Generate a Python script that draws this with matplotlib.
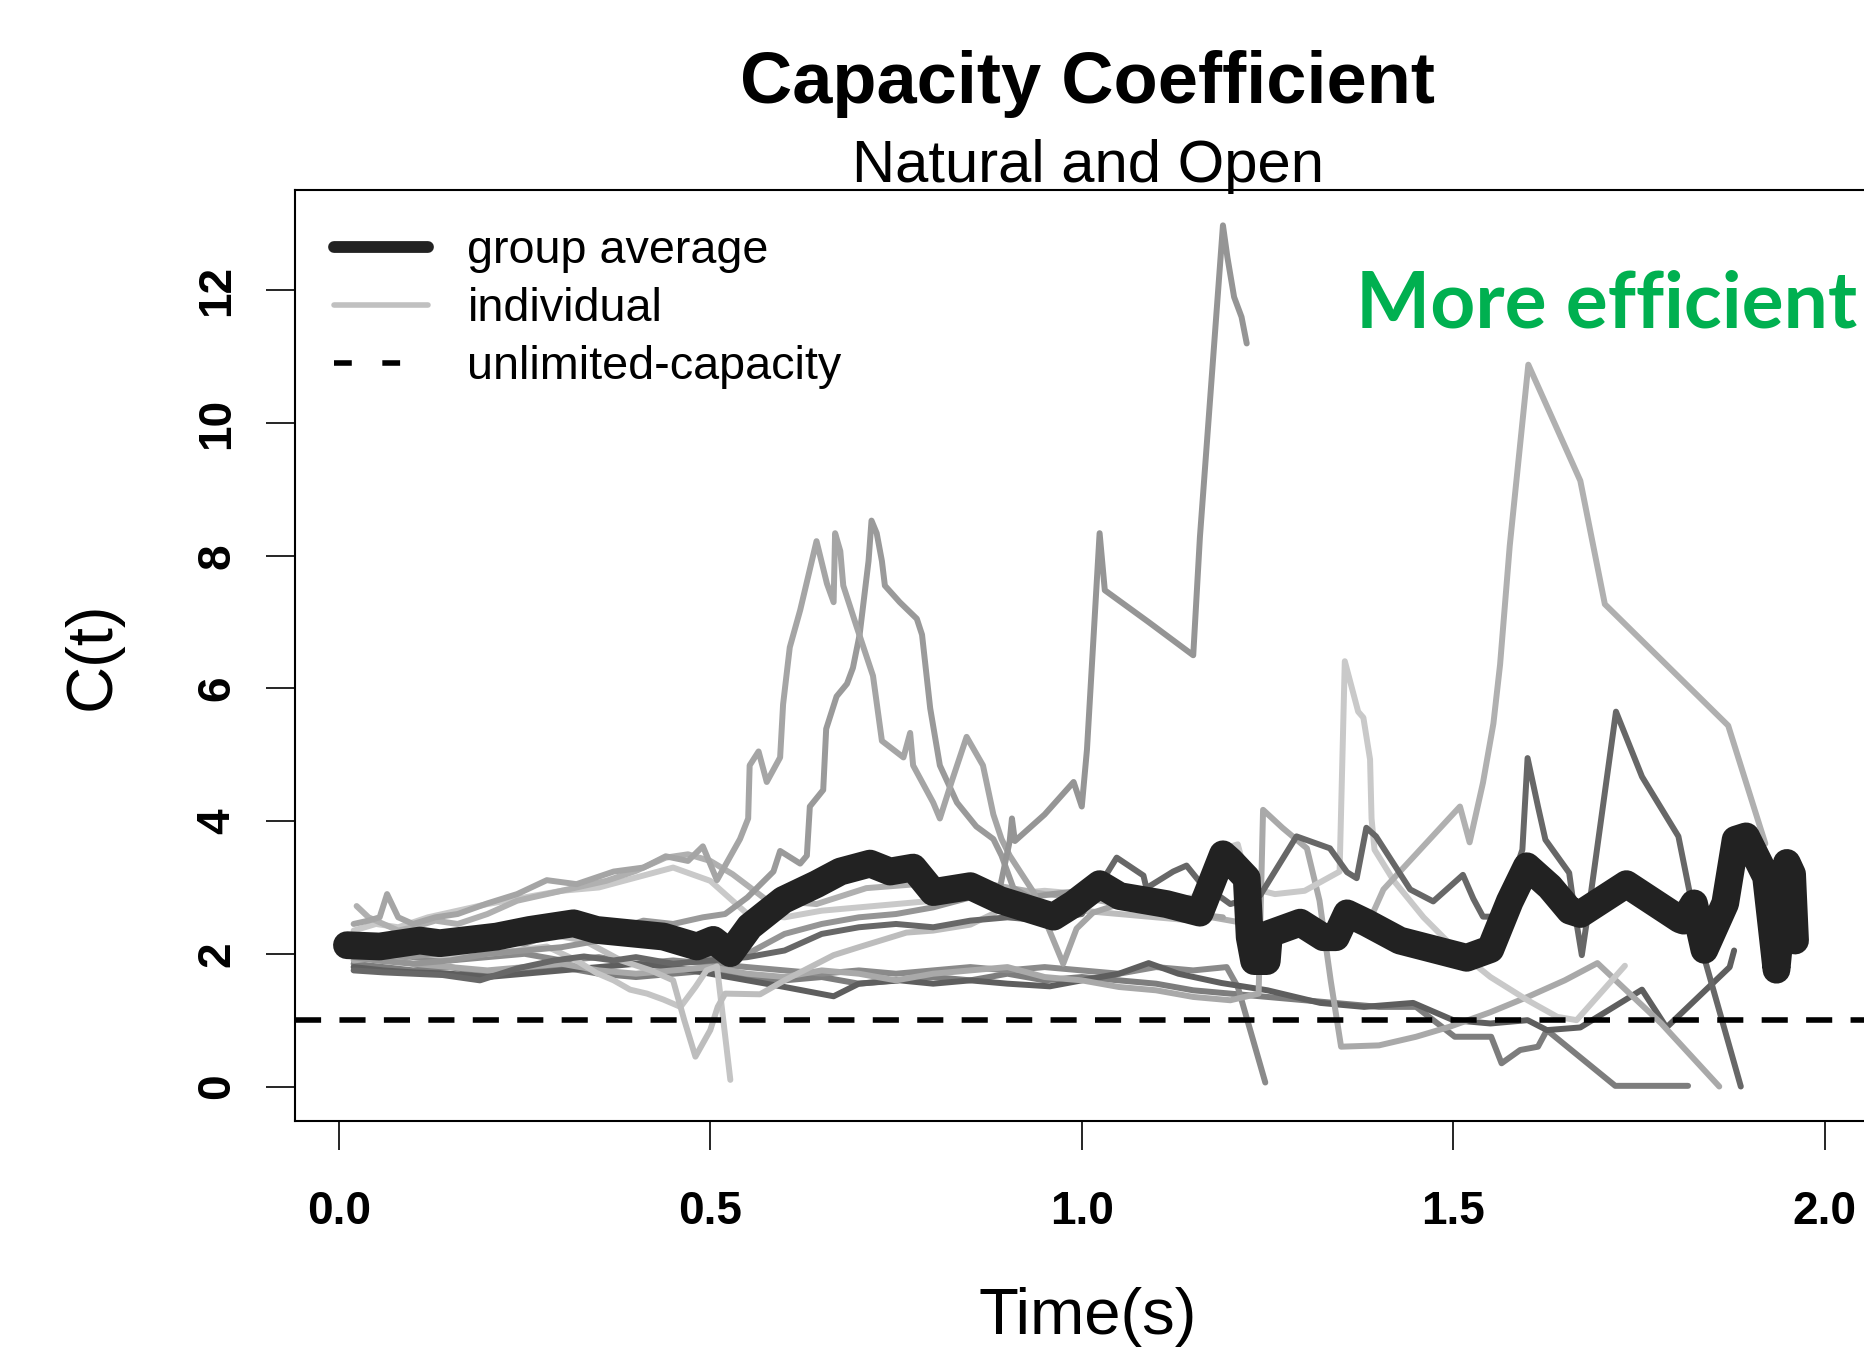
import matplotlib
matplotlib.use('Agg')
import matplotlib.pyplot as plt
from matplotlib.lines import Line2D

plt.rcParams['font.family'] = ['Liberation Sans', 'DejaVu Sans']

# group average C(t)
avg_t = [0.011, 0.055, 0.109, 0.136, 0.2125, 0.257, 0.316, 0.347, 0.392, 0.437,
         0.482, 0.504, 0.527, 0.553, 0.598, 0.643, 0.675, 0.715, 0.742, 0.773,
         0.80, 0.85, 0.89, 0.962, 0.989, 1.024, 1.051, 1.114, 1.159, 1.19,
         1.2, 1.222, 1.226, 1.232, 1.249, 1.252, 1.294, 1.325, 1.342, 1.357,
         1.383, 1.428, 1.473, 1.518, 1.55, 1.576, 1.599, 1.63, 1.657, 1.671,
         1.733, 1.805, 1.81, 1.824, 1.838, 1.866, 1.88, 1.894, 1.921, 1.935,
         1.949, 1.956, 1.96]
avg_c = [2.13, 2.11, 2.2, 2.16, 2.26, 2.36, 2.46, 2.36, 2.31, 2.26,
         2.11, 2.21, 2.01, 2.41, 2.81, 3.05, 3.24, 3.36, 3.24, 3.30,
         2.93, 3.02, 2.81, 2.56, 2.75, 3.05, 2.87, 2.75, 2.62, 3.5,
         3.4, 3.14, 2.25, 1.89, 1.89, 2.3, 2.47, 2.25, 2.25, 2.61,
         2.47, 2.2, 2.07, 1.94, 2.07, 2.79, 3.32, 3.01, 2.65, 2.6,
         3.05, 2.52, 2.5, 2.76, 2.06, 2.76, 3.72, 3.77, 3.16, 1.76,
         3.37, 3.2, 2.2]

# individual participants
ind01_t = [0.02, 0.04, 0.055, 0.065, 0.08, 0.10, 0.13, 0.16, 0.20, 0.24, 0.28, 0.32, 0.37, 0.41, 0.44,
           0.47, 0.49, 0.509, 0.54, 0.551, 0.553, 0.565, 0.576, 0.594, 0.598, 0.607, 0.621, 0.643, 0.657, 0.666,
           0.668, 0.675, 0.679, 0.697, 0.719, 0.731, 0.76, 0.769, 0.773, 0.80, 0.809, 0.825, 0.845, 0.867, 0.881,
           0.892, 0.903, 0.935, 0.975, 0.993, 1.015, 1.05, 1.10, 1.15, 1.19]
ind01_c = [2.45, 2.5, 2.55, 2.9, 2.55, 2.45, 2.55, 2.6, 2.76, 2.9, 3.11, 3.05, 3.24, 3.3, 3.47,
           3.4, 3.62, 3.11, 3.73, 4.04, 4.84, 5.05, 4.59, 4.96, 5.76, 6.62, 7.18, 8.22, 7.58, 7.30,
           8.34, 8.07, 7.55, 6.93, 6.19, 5.21, 4.96, 5.33, 4.84, 4.28, 4.04, 4.6, 5.27, 4.84, 4.1,
           3.73, 3.48, 2.93, 1.85, 2.38, 2.62, 2.75, 2.65, 2.6, 2.55]

ind02_t = [0.02, 0.05, 0.09, 0.13, 0.17, 0.21, 0.25, 0.29, 0.33, 0.37, 0.41, 0.45, 0.49, 0.52, 0.55,
           0.585, 0.594, 0.621, 0.63, 0.634, 0.652, 0.656, 0.67, 0.684, 0.692, 0.701, 0.713, 0.717, 0.724, 0.731,
           0.735, 0.755, 0.778, 0.785, 0.796, 0.809, 0.832, 0.858, 0.881, 0.892, 0.908, 0.93, 0.96, 1.0, 1.04, 1.08]
ind02_c = [2.0, 2.05, 1.95, 2.0, 2.1, 2.2, 2.15, 2.3, 2.4, 2.35, 2.5, 2.45, 2.55, 2.6, 2.85,
           3.24, 3.55, 3.36, 3.48, 4.22, 4.47, 5.39, 5.88, 6.07, 6.31, 6.81, 7.92, 8.53, 8.34, 7.92,
           7.55, 7.30, 7.05, 6.81, 5.70, 4.84, 4.28, 3.92, 3.73, 3.48, 2.99, 2.85, 2.9, 2.95, 2.9, 2.8]

ind03_t = [0.02, 0.05, 0.1, 0.15, 0.2, 0.25, 0.3, 0.35, 0.4, 0.45, 0.5, 0.55, 0.6, 0.65, 0.7, 0.75, 0.8, 0.85, 0.89,
           0.903, 0.906, 0.91, 0.95, 0.989, 1.0, 1.007, 1.024, 1.031, 1.09, 1.15, 1.159, 1.19, 1.196, 1.205,
           1.215, 1.222]
ind03_c = [1.95, 1.9, 1.85, 1.9, 2.0, 2.05, 2.1, 2.2, 2.25, 2.1, 1.95, 2.0, 2.3, 2.45, 2.55, 2.6, 2.7, 2.85, 3.0,
           3.7, 4.04, 3.7, 4.1, 4.59, 4.22, 5.08, 8.34, 7.48, 7.0, 6.5, 8.28, 12.98, 12.5, 11.9,
           11.6, 11.2]

ind04_t = [0.024, 0.04, 0.06, 0.08, 0.1, 0.13, 0.16, 0.2, 0.24, 0.28, 0.32, 0.36, 0.4, 0.44, 0.47,
           0.5, 0.53, 0.576, 0.643, 0.71, 0.778, 0.845, 0.9, 0.95, 1.0, 1.05, 1.1, 1.15, 1.2, 1.25,
           1.3, 1.35, 1.388, 1.406, 1.509, 1.522, 1.54, 1.554, 1.563, 1.576, 1.601, 1.671, 1.704, 1.87, 1.92]
ind04_c = [2.72, 2.55, 2.45, 2.35, 2.4, 2.5, 2.45, 2.6, 2.8, 2.9, 3.0, 3.1, 3.25, 3.45, 3.5,
           3.4, 3.2, 2.81, 2.75, 2.99, 3.05, 3.11, 3.0, 2.9, 2.85, 2.75, 2.65, 2.6, 2.5, 2.4,
           2.35, 2.3, 2.52, 2.97, 4.22, 3.68, 4.58, 5.47, 6.36, 8.15, 10.88, 9.13, 7.27, 5.44, 3.66]

ind05_t = [0.02, 0.05, 0.08, 0.12, 0.16, 0.2, 0.25, 0.3, 0.35, 0.4, 0.45, 0.5, 0.55, 0.6, 0.65,
           0.7, 0.75, 0.8, 0.85, 0.9, 0.95, 1.0, 1.05, 1.1, 1.15, 1.195, 1.21, 1.225, 1.26, 1.3,
           1.347, 1.354, 1.372, 1.379, 1.388, 1.39, 1.394, 1.42, 1.46, 1.5, 1.55, 1.6, 1.64, 1.666, 1.731]
ind05_c = [2.35, 2.45, 2.4, 2.55, 2.65, 2.75, 2.85, 2.95, 3.0, 3.15, 3.3, 3.1, 2.6, 2.55, 2.65,
           2.7, 2.75, 2.8, 2.95, 2.9, 2.95, 2.9, 2.8, 2.8, 2.85, 3.6, 3.65, 3.0, 2.9, 2.95,
           3.24, 6.41, 5.65, 5.56, 4.93, 4.04, 3.57, 3.1, 2.55, 2.1, 1.65, 1.3, 1.05, 1.0, 1.82]

ind06_t = [0.02, 0.06, 0.1, 0.15, 0.2, 0.25, 0.3, 0.35, 0.4, 0.45, 0.5, 0.55, 0.6, 0.65, 0.7,
           0.75, 0.8, 0.85, 0.9, 0.95, 1.0, 1.05, 1.1, 1.15, 1.2, 1.238, 1.244, 1.27, 1.303, 1.32,
           1.335, 1.349, 1.4, 1.45, 1.495, 1.55, 1.6, 1.65, 1.694, 1.78, 1.858]
ind06_c = [1.9, 1.95, 1.85, 1.8, 1.75, 1.8, 1.85, 1.75, 1.7, 1.75, 1.8, 1.7, 1.65, 1.75, 1.7,
           1.6, 1.7, 1.75, 1.8, 1.65, 1.6, 1.5, 1.45, 1.35, 1.3, 1.4, 4.17, 3.9, 3.59, 2.8,
           1.6, 0.6, 0.62, 0.75, 0.9, 1.12, 1.35, 1.6, 1.86, 0.95, 0.0]

ind07_t = [0.02, 0.06, 0.1, 0.14, 0.19, 0.24, 0.29, 0.33, 0.37, 0.4, 0.45, 0.5, 0.55, 0.6, 0.65,
           0.7, 0.75, 0.8, 0.85, 0.9, 0.95, 1.0, 1.047, 1.083, 1.087, 1.123, 1.141, 1.159, 1.2, 1.24,
           1.289, 1.334, 1.357, 1.37, 1.383, 1.396, 1.442, 1.473, 1.513, 1.527, 1.54, 1.563, 1.593, 1.6, 1.614,
           1.624, 1.656, 1.663, 1.673, 1.684, 1.719, 1.754, 1.803, 1.831, 1.887]
ind07_c = [1.75, 1.72, 1.7, 1.68, 1.6, 1.78, 1.9, 1.96, 1.9, 1.95, 1.85, 1.9, 1.95, 2.05, 2.3,
           2.4, 2.45, 2.4, 2.5, 2.55, 2.5, 2.6, 3.45, 3.18, 2.99, 3.24, 3.33, 3.08, 2.75, 2.88,
           3.77, 3.59, 3.23, 3.14, 3.9, 3.77, 2.97, 2.79, 3.19, 2.83, 2.56, 2.56, 3.57, 4.95, 4.22,
           3.72, 3.22, 2.66, 1.98, 2.81, 5.65, 4.67, 3.77, 2.21, 0.0]

ind08_t = [0.02, 0.06, 0.1, 0.15, 0.2, 0.25, 0.3, 0.35, 0.4, 0.45, 0.5, 0.55, 0.6, 0.666, 0.7,
           0.755, 0.8, 0.85, 0.9, 0.957, 1.0, 1.05, 1.09, 1.13, 1.188, 1.25, 1.321, 1.38, 1.446, 1.5,
           1.55, 1.6, 1.626, 1.671, 1.754, 1.787, 1.872, 1.878]
ind08_c = [1.8, 1.75, 1.72, 1.7, 1.65, 1.7, 1.75, 1.8, 1.85, 1.8, 1.7, 1.6, 1.5, 1.36, 1.55,
           1.6, 1.55, 1.6, 1.55, 1.51, 1.6, 1.7, 1.86, 1.7, 1.56, 1.45, 1.26, 1.2, 1.26, 1.0,
           0.95, 1.0, 0.85, 0.89, 1.46, 0.89, 1.8, 2.05]

ind09_t = [0.02, 0.06, 0.1, 0.15, 0.2, 0.25, 0.3, 0.35, 0.4, 0.45, 0.5, 0.55, 0.6, 0.65, 0.7,
           0.75, 0.8, 0.85, 0.9, 0.95, 1.0, 1.05, 1.1, 1.15, 1.2, 1.25, 1.3, 1.35, 1.4, 1.45,
           1.502, 1.551, 1.565, 1.59, 1.614, 1.626, 1.718, 1.816]
ind09_c = [1.85, 1.8, 1.75, 1.8, 1.7, 1.75, 1.8, 1.7, 1.65, 1.7, 1.75, 1.65, 1.6, 1.65, 1.55,
           1.6, 1.65, 1.6, 1.7, 1.6, 1.65, 1.6, 1.55, 1.45, 1.4, 1.35, 1.3, 1.25, 1.2, 1.2,
           0.75, 0.75, 0.35, 0.55, 0.6, 0.85, 0.01, 0.01]

ind10_t = [0.02, 0.06, 0.1, 0.15, 0.2, 0.25, 0.3, 0.35, 0.4, 0.45, 0.5, 0.55, 0.6, 0.65, 0.7,
           0.75, 0.8, 0.85, 0.9, 0.95, 1.0, 1.05, 1.1, 1.15, 1.195, 1.21, 1.247]
ind10_c = [2.0, 2.05, 1.95, 1.9, 1.95, 2.0, 1.9, 1.95, 1.85, 1.9, 1.85, 1.8, 1.75, 1.7, 1.75,
           1.7, 1.75, 1.8, 1.75, 1.8, 1.75, 1.7, 1.8, 1.75, 1.8, 1.5, 0.06]

ind11_t = [0.02, 0.05, 0.08, 0.11, 0.15, 0.2, 0.24, 0.28, 0.32, 0.347, 0.37, 0.392, 0.415, 0.437, 0.46,
           0.48, 0.495, 0.509, 0.527]
ind11_c = [2.3, 2.2, 2.1, 2.0, 1.96, 2.0, 2.05, 2.11, 1.9, 1.71, 1.6, 1.46, 1.4, 1.31, 1.2,
           1.5, 1.75, 1.81, 0.1]

ind12_t = [0.02, 0.05, 0.1, 0.15, 0.2, 0.25, 0.28, 0.33, 0.38, 0.42, 0.45, 0.465, 0.48, 0.5, 0.51,
           0.52, 0.567, 0.6, 0.666, 0.7, 0.764, 0.8, 0.85, 0.88, 0.9, 0.95, 1.0, 1.05, 1.1, 1.15]
ind12_c = [2.2, 2.25, 2.2, 2.3, 2.4, 2.35, 2.3, 2.2, 1.9, 1.75, 1.6, 1.0, 0.45, 0.85, 1.2,
           1.4, 1.39, 1.6, 1.98, 2.1, 2.32, 2.35, 2.44, 2.6, 2.75, 2.7, 2.65, 2.6, 2.55, 2.5]

individuals = [
    (ind09_t, ind09_c, '#7d7d7d'),
    (ind10_t, ind10_c, '#8a8a8a'),
    (ind08_t, ind08_c, '#5e5e5e'),
    (ind06_t, ind06_c, '#a9a9a9'),
    (ind11_t, ind11_c, '#c4c4c4'),
    (ind12_t, ind12_c, '#bdbdbd'),
    (ind05_t, ind05_c, '#c9c9c9'),
    (ind04_t, ind04_c, '#b0b0b0'),
    (ind02_t, ind02_c, '#9a9a9a'),
    (ind01_t, ind01_c, '#a5a5a5'),
    (ind03_t, ind03_c, '#959595'),
    (ind07_t, ind07_c, '#676767'),
]

fig = plt.figure(figsize=(18.64, 13.5), dpi=100)
ax = fig.add_axes([0.15815, 0.16963, 0.8507, 0.68948])

for t, c, col in individuals:
    ax.plot(t, c, color=col, lw=4.3, solid_joinstyle='round', solid_capstyle='round')

ax.plot(avg_t, avg_c, color='#222222', lw=20, solid_joinstyle='round', solid_capstyle='round')
ax.axhline(1, color='black', lw=4, dashes=(4.7, 3.3))

ax.set_xlim(-0.0592, 2.075)
ax.set_ylim(-0.52, 13.51)
ax.set_xticks([0, 0.5, 1.0, 1.5, 2.0])
ax.set_xticklabels(['0.0', '0.5', '1.0', '1.5', '2.0'])
ax.set_yticks([0, 2, 4, 6, 8, 10, 12])
ax.tick_params(direction='out', length=21, width=1.2, labelsize=33)
ax.tick_params(axis='x', pad=29)
ax.tick_params(axis='y', pad=19, labelrotation=90)
for lbl in ax.get_xticklabels() + ax.get_yticklabels():
    lbl.set_fontweight('bold')
for lbl in ax.get_yticklabels():
    lbl.set_va('center')
for sp in ax.spines.values():
    sp.set_linewidth(1.5)

ax.set_xlabel('Time(s)', fontsize=47)
ax.xaxis.set_label_coords(0.5, -0.2106)
ax.xaxis.label.set_va('center')
ax.set_ylabel('C(t)', fontsize=47)
ax.yaxis.set_label_coords(-0.1275, 0.5)
ax.yaxis.label.set_va('center')

fig.text(0.5836, 0.9234, 'Capacity Coefficient', fontsize=52, fontweight='bold',
         ha='center', va='baseline')
fig.text(0.5836, 0.8653, 'Natural and Open', fontsize=43, ha='center', va='baseline')

handles = [Line2D([], [], color='#222222', lw=8.5, solid_capstyle='round'),
           Line2D([], [], color='#c0c0c0', lw=4, solid_capstyle='round'),
           Line2D([], [], color='black', lw=4, dashes=(3.2, 5.5))]
ax.legend(handles, ['group average', 'individual', 'unlimited-capacity'],
          loc='upper left', bbox_to_anchor=(0.1792, 0.8302), bbox_transform=fig.transFigure,
          frameon=False, fontsize=33.7, borderpad=0, borderaxespad=0,
          handlelength=2.0, handletextpad=0.85, labelspacing=0.30)

fig.text(1356 / 1864, (1350 - 328) / 1350, 'More efficient', fontsize=56.5, fontweight='bold',
         color='#00B050', family=['Lato', 'DejaVu Sans'], ha='left', va='baseline')

fig.savefig('out.png', dpi=100)
